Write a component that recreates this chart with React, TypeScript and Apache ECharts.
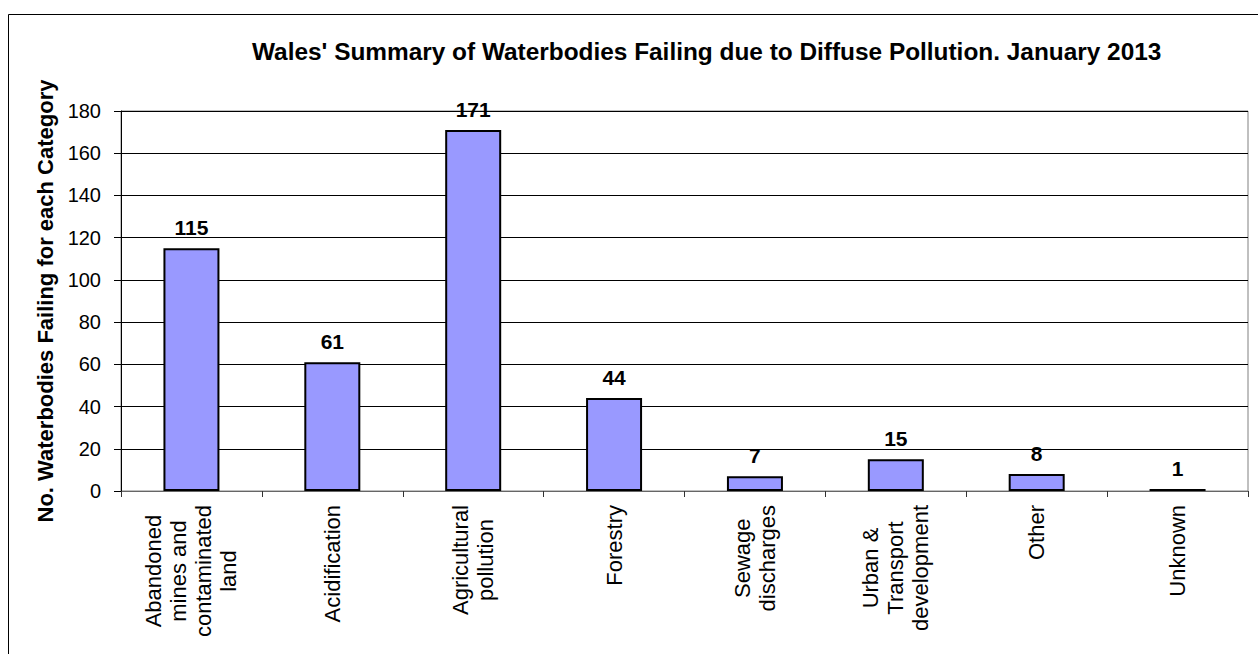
import React, { useEffect, useRef } from "react";
import * as echarts from "echarts";

const FONT = "'Liberation Sans', Arial, sans-serif";

const TITLE = "Wales' Summary of Waterbodies Failing due to Diffuse Pollution. January 2013";
const Y_TITLE = "No. Waterbodies Failing for each Category";

const categories = [
  "Abandoned\nmines and\ncontaminated\nland",
  "Acidification",
  "Agricultural\npollution",
  "Forestry",
  "Sewage\ndischarges",
  "Urban &\nTransport\ndevelopment",
  "Other",
  "Unknown",
];

const values = [115, 61, 171, 44, 7, 15, 8, 1];

const Y_MIN = 0;
const Y_MAX = 180;
const Y_STEP = 20;

export default function App() {
  const ref = useRef<HTMLDivElement>(null);

  useEffect(() => {
    if (!ref.current) return;
    const chart = echarts.init(ref.current, null, { renderer: "svg" });
    const option = {
      animation: false,
      backgroundColor: "#ffffff",
      title: {
        text: TITLE,
        left: 252,
        top: 39,
        padding: 0,
        textStyle: {
          fontSize: 24.4,
          fontWeight: "bold",
          color: "#000",
          fontFamily: FONT,
        },
      },
      grid: {
        left: 121,
        right: 10,
        top: 111,
        bottom: 163,
        show: true,
        borderColor: "#808080",
        borderWidth: 1,
        backgroundColor: "transparent",
      },
      xAxis: {
        type: "category",
        data: categories,
        axisLine: { show: true, lineStyle: { color: "#666", width: 1 } },
        axisTick: { show: true, length: 6, lineStyle: { color: "#333" } },
        axisLabel: {
          interval: 0,
          rotate: 90,
          margin: 14,
          color: "#000",
          fontFamily: FONT,
          fontSize: 22,
          lineHeight: 25,
          formatter: (v: string) =>
            v
              .split("\n")
              .map((l) => `{c|${l}}`)
              .join("\n"),
          rich: {
            c: {
              align: "center",
              fontSize: 22,
              lineHeight: 25,
              fontFamily: FONT,
              color: "#000",
            },
          },
        },
      },
      yAxis: {
        type: "value",
        min: Y_MIN,
        max: Y_MAX,
        interval: Y_STEP,
        name: Y_TITLE,
        nameLocation: "middle",
        nameRotate: 90,
        nameGap: 58,
        nameTextStyle: {
          fontSize: 22,
          fontWeight: "bold",
          color: "#000",
          fontFamily: FONT,
        },
        axisLine: { show: true, lineStyle: { color: "#000", width: 1 } },
        axisTick: { show: true, length: 7, lineStyle: { color: "#000" } },
        axisLabel: {
          margin: 20,
          fontSize: 20,
          color: "#000",
          fontFamily: FONT,
        },
        splitLine: { show: true, lineStyle: { color: "#000", width: 1 } },
      },
      series: [
        {
          type: "bar",
          data: values,
          barWidth: 56,
          itemStyle: {
            color: "#9999FF",
            borderColor: "#000",
            borderWidth: 2,
          },
          label: {
            show: true,
            position: "top",
            distance: 10,
            fontSize: 21,
            fontWeight: "bold",
            color: "#000",
            fontFamily: FONT,
          },
        },
      ],
      graphic: [
        {
          type: "rect",
          silent: true,
          shape: { x: 8.5, y: 14.5, width: 1400, height: 800 },
          style: { fill: "none", stroke: "#000", lineWidth: 1 },
        },
      ],
    };
    chart.setOption(option as any);
    return () => chart.dispose();
  }, []);

  return (
    <div
      ref={ref}
      style={{
        position: "absolute",
        left: 0,
        top: 0,
        width: 1258,
        height: 654,
        background: "#fff",
      }}
    />
  );
}
